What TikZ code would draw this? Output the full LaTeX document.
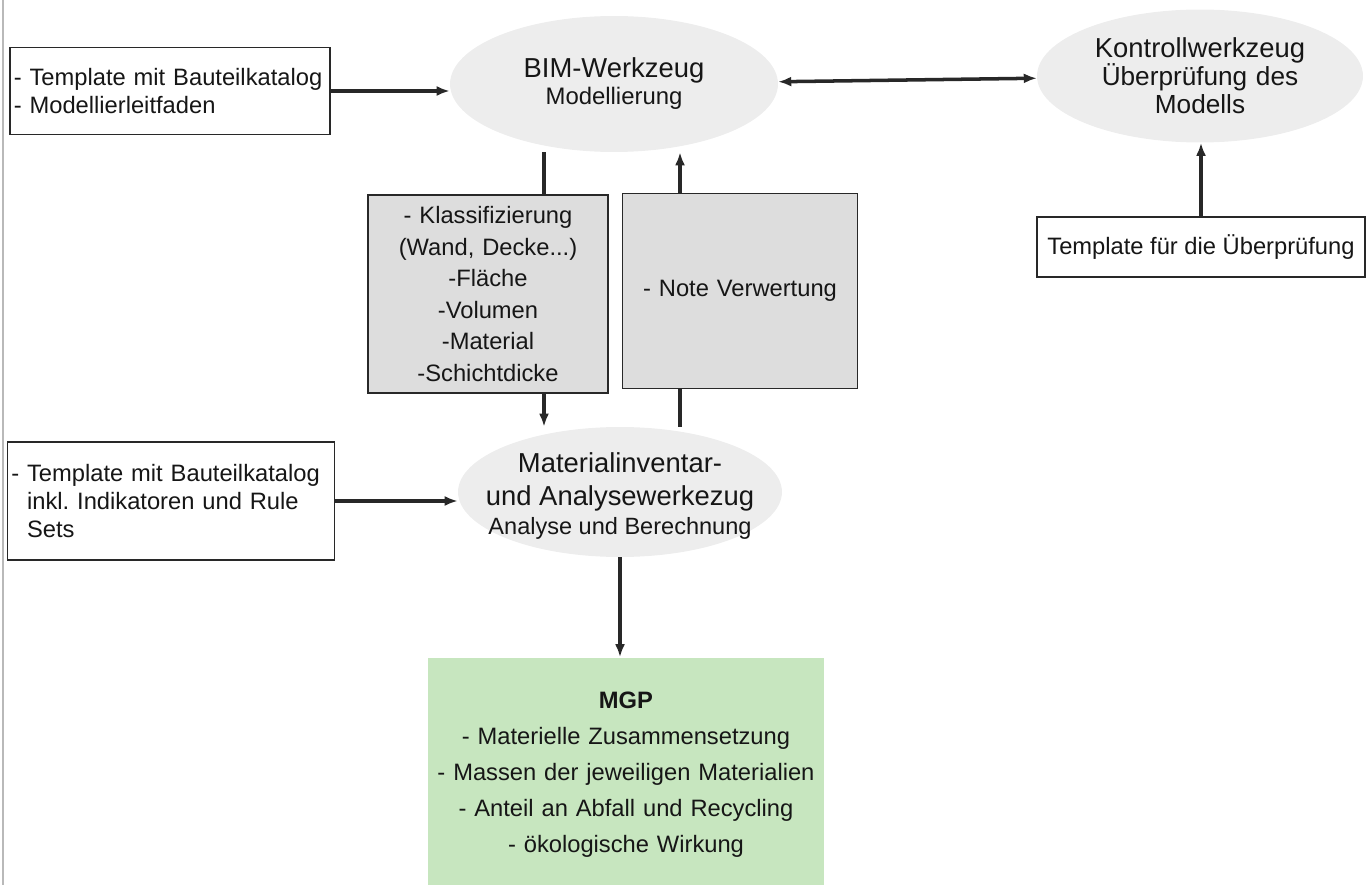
\documentclass[tikz,border=0pt]{standalone}
\usepackage{fontspec}
\setmainfont{Liberation Sans}
\usetikzlibrary{arrows.meta, shapes.geometric, calc}

\definecolor{toolfill}{RGB}{237,237,237}
\definecolor{listfill}{RGB}{221,221,221}
\definecolor{mgpfill}{RGB}{199,230,191}
\definecolor{ink}{RGB}{22,22,22}
\definecolor{wirecol}{RGB}{40,40,40}

\newcommand{\bigsize}{\fontsize{15.6}{18}\selectfont}

\begin{document}
\begin{tikzpicture}[x=0.02cm, y=-0.02cm,
    tool/.style={ellipse, fill=toolfill, align=center, text=ink, inner sep=0pt},
    tpl/.style={rectangle, draw=wirecol, line width=0.8pt, fill=white, align=left, text=ink, inner xsep=2pt, font=\fontsize{13.5}{16}\selectfont},
    list/.style={rectangle, draw=wirecol, line width=0.8pt, fill=listfill, align=center, text=ink, font=\fontsize{13.5}{17.9}\selectfont},
    wire/.style={draw=wirecol, line width=2pt},
    arr/.style={wire, -{Latex[length=2.6mm, width=2mm]}}]

        \useasboundingbox (0,0) rectangle (1370,885);
        \draw[gray!55, line width=1.5pt] (3,0) -- (3,885);

        % TOOLS
        \node[tool, minimum width=6.56cm, minimum height=2.72cm, text width=4cm, font=\fontsize{13.6}{15.4}\selectfont] (bim) at (614,84) {{\bigsize BIM-Werkzeug}\\Modellierung};
        \node[tool, minimum width=6.52cm, minimum height=2.66cm, text width=4.5cm, font=\fontsize{14.9}{16}\selectfont] (ctrl) at (1200,76) {{\bigsize Kontrollwerkzeug}\\\"Uberpr\"ufung des\\Modells};
        \node[tool, minimum width=6.48cm, minimum height=2.6cm] (mat) at (620,492) {};
        \node[align=center, text=ink, font=\fontsize{15.6}{18.8}\selectfont] (matlabel) at ($(mat) + (0,4)$) {Materialinventar-\\und Analysewerkezug\\[-2.8pt]{\fontsize{13.4}{16}\selectfont Analyse und Berechnung}};

        % TEMPLATES
        \node[tpl, minimum width=6.4cm, minimum height=1.74cm, text width=6.25cm] (tplbim) at (170,91) {- Template mit Bauteilkatalog\\- Modellierleitfaden};
        \node[tpl, minimum width=6.54cm, minimum height=2.36cm, text width=6.39cm] (tplmat) at (171,501) {- Template mit Bauteilkatalog\\\phantom{- }inkl.\ Indikatoren und Rule\\\phantom{- }Sets};
        \node[tpl, minimum width=6.56cm, minimum height=1.2cm, align=center] (tplchk) at (1201,247) {Template f\"ur die \"Uberpr\"ufung};

        % ATTRIBUTES
        \node[list, minimum width=4.8cm, minimum height=3.96cm, text width=4.5cm] (attr) at (488,294) {- Klassifizierung\\(Wand, Decke...)\\-Fl\"ache\\-Volumen\\-Material\\-Schichtdicke};
        \node[list, minimum width=4.7cm, minimum height=3.9cm, text width=4.4cm] (note) at (740,291) {- Note Verwertung};

        % MGP
        \node[rectangle, fill=mgpfill, minimum width=7.94cm, minimum height=4.7cm, text width=7.6cm, align=center, text=ink, font=\fontsize{13.5}{20.5}\selectfont] (mgp) at (626,775) {\textbf{MGP}\\- Materielle Zusammensetzung\\- Massen der jeweiligen Materialien\\- Anteil an Abfall und Recycling\\- \"okologische Wirkung};

        % CONNECTIONS
        \coordinate (lx) at (544,0);
        \coordinate (rx) at (680,0);
        \draw[arr] (tplbim.east) -- (tplbim.east -| bim.west);
        \draw[wire, {Latex[length=2.6mm, width=2mm]}-{Latex[length=2.6mm, width=2mm]}] (bim) -- (ctrl);
        \draw[arr] (tplchk.north) -- (tplchk.north |- ctrl.south);
        \draw[wire] (lx |- bim.south) -- (lx |- attr.north);
        \draw[arr] (lx |- attr.south) -- (lx |- mat.north);
        \draw[arr] (rx |- note.north) -- (rx |- bim.south);
        \draw[wire] (rx |- mat.north) -- (rx |- note.south);
        \draw[arr] (tplmat.east) -- (tplmat.east -| mat.west);
        \draw[arr] (mat.south) -- (mat.south |- mgp.north);

    \end{tikzpicture}
\end{document}
